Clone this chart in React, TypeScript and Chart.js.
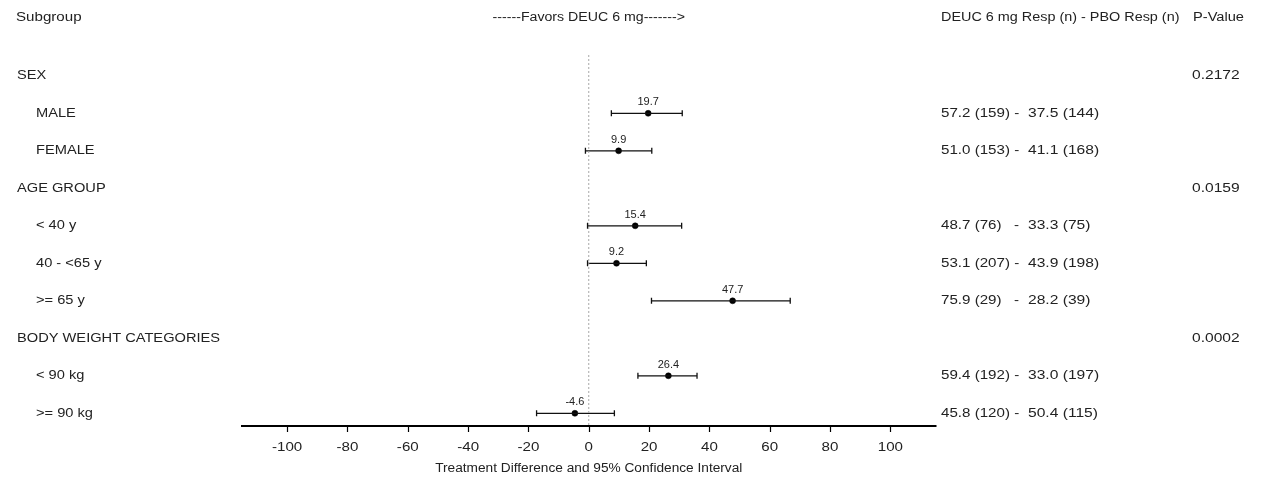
import React, { useEffect, useRef } from "react";
import { Chart, registerables } from "chart.js";

Chart.register(...registerables);

// ---- data ----
const rowLabels = [
  "SEX",
  "MALE",
  "FEMALE",
  "AGE GROUP",
  "< 40 y",
  "40 - <65 y",
  ">= 65 y",
  "BODY WEIGHT CATEGORIES",
  "< 90 kg",
  ">= 90 kg",
];
const isGroup = [true, false, false, true, false, false, false, true, false, false];
const estimates = [null, 19.7, 9.9, null, 15.4, 9.2, 47.7, null, 26.4, -4.6];
const lowerCI = [null, 7.5, -1.1, null, -0.4, -0.4, 20.8, null, 16.3, -17.3];
const upperCI = [null, 31.0, 20.9, null, 30.8, 19.1, 66.8, null, 35.9, 8.5];
const trtResp = ["", "57.2", "51.0", "", "48.7", "53.1", "75.9", "", "59.4", "45.8"];
const trtN = ["", "159", "153", "", "76", "207", "29", "", "192", "120"];
const pboResp = ["", "37.5", "41.1", "", "33.3", "43.9", "28.2", "", "33.0", "50.4"];
const pboN = ["", "144", "168", "", "75", "198", "39", "", "197", "115"];
const pValues = ["0.2172", "", "", "0.0159", "", "", "", "0.0002", "", ""];
const xTicks = [-100, -80, -60, -40, -20, 0, 20, 40, 60, 80, 100];
const xTitle = "Treatment Difference and 95% Confidence Interval";
const headerSubgroup = "Subgroup";
const headerFavors = "------Favors DEUC 6 mg------->";
const headerResp = "DEUC 6 mg Resp (n) - PBO Resp (n)";
const headerP = "P-Value";

const X_MIN = -115.3;
const X_MAX = 115.3;
const Y_MIN = -0.555;
const Y_MAX = 9.339;

const FONT = '"Liberation Sans", Arial, Helvetica, sans-serif';
const TEXT_COLOR = "#222";

function drawText(
  ctx: CanvasRenderingContext2D,
  s: string,
  x: number,
  y: number,
  align: CanvasTextAlign,
  size = 12,
  sx = 1.26
) {
  ctx.save();
  ctx.font = `${size}px ${FONT}`;
  ctx.fillStyle = TEXT_COLOR;
  ctx.textBaseline = "middle";
  ctx.textAlign = align;
  ctx.translate(x, y);
  ctx.scale(sx, 1);
  ctx.fillText(s, 0, 0);
  ctx.restore();
}

const forestText = {
  id: "forestText",
  afterDraw(chart: any) {
    const ctx: CanvasRenderingContext2D = chart.ctx;
    const xs = chart.scales.x;
    const ys = chart.scales.y;
    const area = chart.chartArea;

    // x axis line
    ctx.save();
    ctx.strokeStyle = "#000";
    ctx.lineWidth = 2;
    ctx.beginPath();
    ctx.moveTo(area.left, area.bottom);
    ctx.lineTo(area.right, area.bottom);
    ctx.stroke();
    ctx.lineWidth = 1.2;
    xTicks.forEach((t) => {
      const px = Math.round(xs.getPixelForValue(t)) + 0.5;
      ctx.beginPath();
      ctx.moveTo(px, area.bottom);
      ctx.lineTo(px, area.bottom + 6);
      ctx.stroke();
    });
    ctx.restore();

    xTicks.forEach((t) => {
      drawText(ctx, String(t), xs.getPixelForValue(t), area.bottom + 22, "center");
    });
    drawText(ctx, xTitle, xs.getPixelForValue(0), area.bottom + 43, "center", 12, 1.14);

    // headers
    const hy = 17.5;
    drawText(ctx, headerSubgroup, 16, hy, "left");
    drawText(ctx, headerFavors, xs.getPixelForValue(0), hy, "center", 12, 1.18);
    drawText(ctx, headerResp, 941, hy, "left", 12, 1.2);
    drawText(ctx, headerP, 1193, hy, "left", 12, 1.22);

    // rows
    rowLabels.forEach((lab, i) => {
      const py = ys.getPixelForValue(i);
      drawText(ctx, lab, isGroup[i] ? 17 : 36, py, "left", 12, 1.22);
      if (pValues[i]) drawText(ctx, pValues[i], 1192, py, "left", 12, 1.3);
      if (trtResp[i]) {
        const left =
          `${trtResp[i]} (${trtN[i]})` + (trtN[i].length >= 3 ? " -" : "   -");
        drawText(ctx, left, 941, py, "left", 12, 1.26);
        drawText(ctx, `${pboResp[i]} (${pboN[i]})`, 1028, py, "left", 12, 1.3);
      }
      const est = estimates[i];
      if (est !== null) {
        drawText(
          ctx,
          est.toFixed(1),
          xs.getPixelForValue(est),
          py - 11,
          "center",
          10,
          1.1
        );
      }
    });
  },
};

export default function App() {
  const ref = useRef<HTMLCanvasElement | null>(null);

  useEffect(() => {
    if (!ref.current) return;

    const datasets: any[] = [];
    // zero reference line
    datasets.push({
      type: "line",
      data: [
        { x: 0, y: Y_MIN },
        { x: 0, y: Y_MAX },
      ],
      borderColor: "#a8a8a8",
      borderWidth: 1,
      borderDash: [2, 2],
      pointRadius: 0,
    });
    // confidence intervals with caps
    rowLabels.forEach((_, i) => {
      if (estimates[i] === null) return;
      datasets.push({
        type: "line",
        data: [
          { x: lowerCI[i], y: i },
          { x: upperCI[i], y: i },
        ],
        borderColor: "#111",
        borderWidth: 1.3,
        pointStyle: "line",
        pointRotation: 90,
        pointRadius: 3,
        pointBorderWidth: 1.3,
        pointBorderColor: "#111",
        pointBackgroundColor: "#111",
      });
    });
    // point estimates
    datasets.push({
      type: "scatter",
      data: rowLabels
        .map((_, i) => (estimates[i] === null ? null : { x: estimates[i], y: i }))
        .filter((d) => d !== null),
      pointRadius: 3,
      pointBackgroundColor: "#000",
      pointBorderColor: "#000",
      pointBorderWidth: 0.5,
    });

    const chart = new Chart(ref.current, {
      type: "scatter",
      data: { datasets },
      options: {
        animation: false,
        responsive: false,
        maintainAspectRatio: false,
        layout: { padding: { left: 241, right: 331.5, top: 55, bottom: 53 } },
        plugins: { legend: { display: false }, tooltip: { enabled: false } },
        scales: {
          x: { type: "linear", min: X_MIN, max: X_MAX, display: false },
          y: { type: "linear", min: Y_MIN, max: Y_MAX, reverse: true, display: false },
        },
      },
      plugins: [forestText],
    } as any);

    return () => chart.destroy();
  }, []);

  return (
    <div
      style={{
        position: "fixed",
        left: 0,
        top: 0,
        width: 1268,
        height: 479,
        background: "#fff",
      }}
    >
      <canvas ref={ref} width={1268} height={479} style={{ width: 1268, height: 479 }} />
    </div>
  );
}
